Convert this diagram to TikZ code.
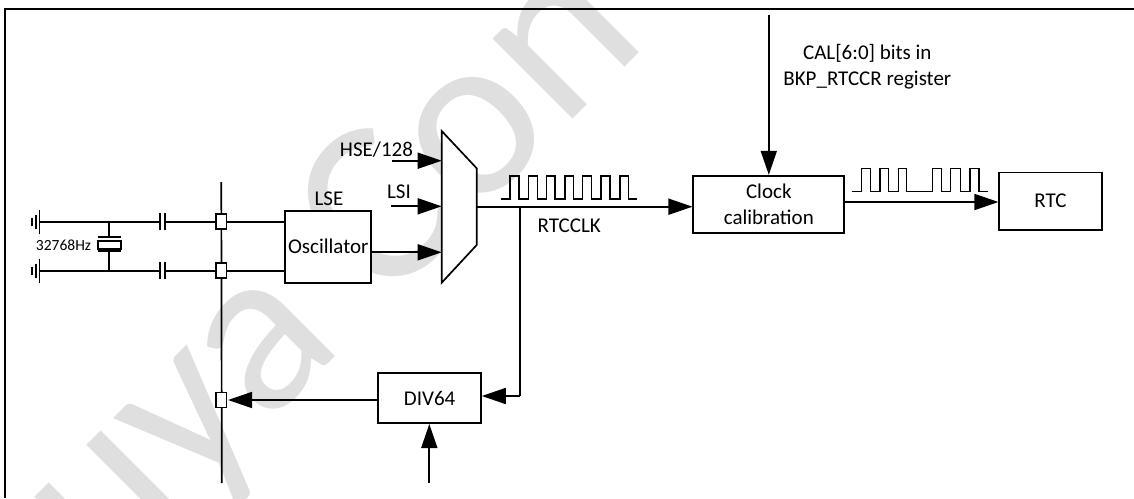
\documentclass[tikz,border=0pt]{standalone}
\usepackage{fontspec}
\setmainfont{Carlito}
\usetikzlibrary{arrows.meta,calc}
\definecolor{wm}{HTML}{DFDFDF}
\tikzset{
  wire/.style={line width=1.7pt,line join=miter},
  arr/.style={wire,-{Triangle[length=24pt,width=16pt]}},
  blockbox/.style={draw,line width=1.7pt,fill=white,inner sep=0pt,align=center,font=\fontsize{21}{25.6}\selectfont},
  pad/.style={draw,line width=1.7pt,fill=white,inner sep=0pt,minimum width=10.5pt,minimum height=15pt},
  lab/.style={inner sep=0pt,font=\fontsize{21}{25.6}\selectfont,align=center}
}
\begin{document}
\begin{tikzpicture}[x=1pt,y=-1pt]
\useasboundingbox (0,0) rectangle (1134,498);
\begin{scope}
\clip (0,0) rectangle (1134,498);
\node[anchor=base west,rotate=45,inner sep=0pt,text=wm,font=\fontsize{237}{237}\selectfont] (watermark) at (17.5,674.5) {Puya Con};
\end{scope}
% frame
\coordinate (fa) at (5,498); \coordinate (fb) at (5,9); \coordinate (fc) at (1134,9);
\draw[line width=1.8pt] (fa) -- (fb) -- (fc);
% bus
\coordinate (bt) at (221.3,182); \coordinate (bb) at (221.8,483);
\draw[wire] (bt) -- (bb);
% squares
\node[pad] (s1) at (221.3,221.7) {};
\node[pad] (s2) at (221.3,270.7) {};
\node[pad] (s3) at (221.3,400) {};
% blocks
\node[blockbox,minimum width=86pt,minimum height=72pt] (lse) at (328.3,246.7) {Oscillator};
\node[blockbox,minimum width=151pt,minimum height=57.6pt] (clock) at (768.8,204.5) {Clock\\calibration};
\node[blockbox,minimum width=102.4pt,minimum height=57.7pt] (rtc) at (1050.5,201.2) {RTC};
\node[blockbox,minimum width=102.7pt,minimum height=49.4pt] (div) at (429.6,398) {DIV64};
% labels
\node[lab] (lselab) at (329,199) {LSE};
\node[lab] (hselab) at (376.5,150) {HSE/128};
\node[lab] (lsilab) at (399,191.7) {LSI};
\node[lab] (clklab) at (569.3,226) {RTCCLK};
\node[lab] (callab) at (867.3,67) {CAL[6:0] bits in\\BKP\_RTCCR register};
\node[lab,font=\fontsize{15.5}{18}\selectfont] (xtlab) at (63.5,245) {32768Hz};
% mux
\coordinate (m1) at (441.7,131); \coordinate (m2) at (476.7,168.3);
\coordinate (m3) at (476.7,245); \coordinate (m4) at (441.7,282.7);
\draw[wire,fill=white] (m1) -- (m2) -- (m3) -- (m4) -- cycle;
% mux inputs
\coordinate (hi) at (392.3,160.7); \coordinate (li) at (390.7,206.3);
\coordinate (oi) at (441.7,252.3); \coordinate (mo) at (476.7,206.7);
\draw[arr] (hi) -- (m1 |- hi);
\draw[arr] (li) -- (m1 |- li);
\draw[arr] (lse.east |- oi) -- (oi);
% output
\draw[arr] (mo) -- (clock.west |- mo);
\coordinate (ttop) at (768.8,15);
\draw[arr] (ttop) -- (clock.north);
\coordinate (co) at (844.3,202);
\draw[arr] (co) -- (rtc.west |- co);
% feedback
\coordinate (tap) at (520,206.7); \coordinate (dn) at (520,396);
\draw[wire] (tap) -- (dn);
\draw[arr] (dn) -- (div.east |- dn);
\coordinate (s3e) at (228,400);
\draw[arr] (div.west |- s3) -- (s3e);
\coordinate (dbot) at (429.3,483);
\coordinate (dtip) at (429.3,424);
\draw[arr] (dbot) -- (dtip);
% LSE to bus
\draw[wire] (s1.east) -- (lse.west |- s1);
\draw[wire] (s2.east) -- (lse.west |- s2);
% left circuit
\coordinate (g1) at (39.5,221.7); \coordinate (g2) at (39.5,270.7);
\coordinate (c1l) at (160,221.7); \coordinate (c1r) at (164.7,221.7);
\coordinate (c2l) at (160,270.7); \coordinate (c2r) at (164.7,270.7);
\draw[wire] (g1) -- (c1l); \draw[wire] (c1r) -- (s1.west);
\draw[wire] (g2) -- (c2l); \draw[wire] (c2r) -- (s2.west);
\foreach \g in {g1,g2}{
  \draw[line width=1.9pt] ($(\g)+(0,-12)$) -- ($(\g)+(0,12)$);
  \draw[line width=1.7pt] ($(\g)+(-3.5,-7)$) -- ($(\g)+(-3.5,7)$);
  \draw[line width=1.7pt] ($(\g)+(-7.5,-4)$) -- ($(\g)+(-7.5,4)$);
}
\foreach \c in {c1l,c1r,c2l,c2r}{
  \draw[line width=1.7pt] ($(\c)+(0,-8.5)$) -- ($(\c)+(0,8.5)$);
}
% crystal
\coordinate (xa) at (109,221.7); \coordinate (xb) at (109,236.7);
\coordinate (xc) at (109,251.3); \coordinate (xd) at (109,270.7);
\draw[wire] (xa) -- (xb); \draw[wire] (xc) -- (xd);
\draw[line width=1.9pt] ($(xb)+(-11.5,0)$) -- ($(xb)+(11.5,0)$);
\draw[line width=1.9pt] ($(xc)+(-11.5,0)$) -- ($(xc)+(11.5,0)$);
\draw[line width=1.7pt] (98.3,241) rectangle (121.3,249.3);
% waveforms
\draw[line width=1.5pt] (500.7,199) -- (510,199) -- (510,176) -- (519,176) -- (519,199) -- (528.3,199) -- (528.3,176) -- (537.3,176) -- (537.3,199) -- (546.3,199) -- (546.3,176) -- (555,176) -- (555,199) -- (565,199) -- (565,176) -- (573.3,176) -- (573.3,199) -- (582.7,199) -- (582.7,176) -- (591.7,176) -- (591.7,199) -- (601,199) -- (601,176) -- (610,176) -- (610,199) -- (620,199) -- (620,176) -- (628.3,176) -- (628.3,199) -- (637.3,199);
\draw[line width=1.5pt] (851.7,191.3) -- (861.7,191.3) -- (861.7,168.3) -- (870.7,168.3) -- (870.7,191.3) -- (880,191.3) -- (880,168.3) -- (888.3,168.3) -- (888.3,191.3) -- (898.3,191.3) -- (898.3,168.3) -- (906.7,168.3) -- (906.7,191.3) -- (932.7,191.3) -- (932.7,168.3) -- (941.7,168.3) -- (941.7,191.3) -- (950.7,191.3) -- (950.7,168.3) -- (960.7,168.3) -- (960.7,191.3) -- (970,191.3) -- (970,168.3) -- (979,168.3) -- (979,191.3) -- (988.3,191.3);
\end{tikzpicture}
\end{document}
